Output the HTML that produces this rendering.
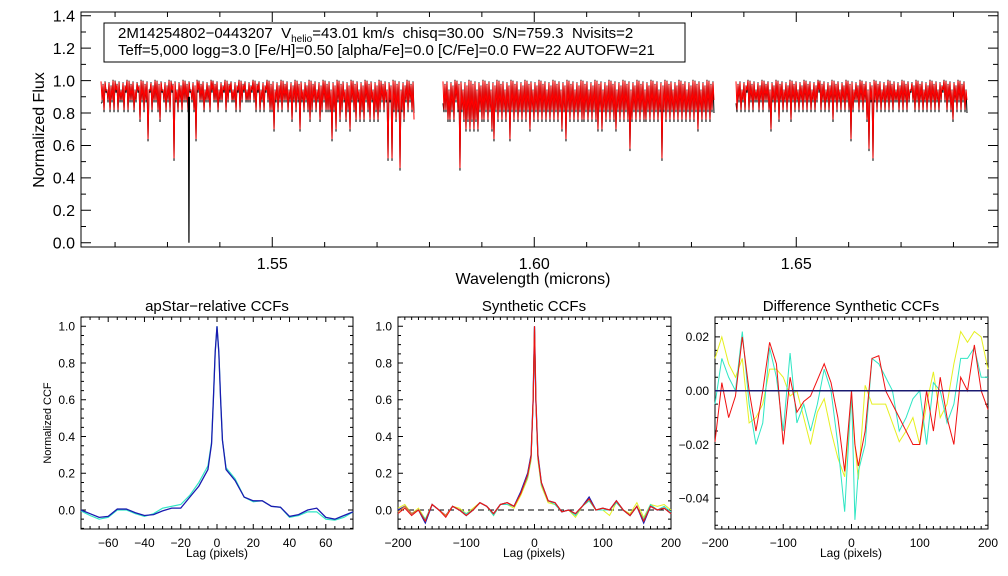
<!DOCTYPE html>
<html><head><meta charset="utf-8"><style>
html,body{margin:0;padding:0;background:#fff;}
svg{display:block;font-family:"Liberation Sans",sans-serif;}
text{white-space:pre;}
</style></head><body>
<svg id="fig" width="1008" height="576" viewBox="0 0 1008 576" xmlns="http://www.w3.org/2000/svg">
<rect x="0" y="0" width="1008" height="576" fill="#fff"/>
<g>
<rect x="104" y="23" width="581" height="39" fill="none" stroke="#000" stroke-width="1"/>
<text x="118" y="38" font-size="15" xml:space="preserve">2M14254802−0443207  V<tspan font-size="10" dy="4">helio</tspan><tspan dy="-4">=43.01 km/s  chisq=30.00  S/N=759.3  Nvisits=2</tspan></text>
<text x="118" y="55" font-size="15">Teff=5,000 logg=3.0 [Fe/H]=0.50 [alpha/Fe]=0.0 [C/Fe]=0.0 FW=22 AUTOFW=21</text>
</g>
</svg>
<script>
// ---------- DATA ----------
const specXTicks=[1.55,1.60,1.65];
const specYTicks=[0.0,0.2,0.4,0.6,0.8,1.0,1.2,1.4];
const chipStart=[1.51732,1.58258,1.63850];
const chipDepth1="2312323132231322321423261322341232318232322312361223223122322132122313212221231323123352323223242325232343232432333635243243523424342342434323282834393423234";
const chipDepth2="3344342393454545453443435634343436343434343534343434343434353634343434434343453534343453434347434343443434343834343434343434343534343432";
const chipDepth3="32323132322323223523242323242323232323232132323242323232363223232472823232323232232323212323232323232321232342323232";
const deepObsLine=[1.5341,0.0];

const ccf1Lags=[-75,-70,-65,-60,-55,-50,-45,-40,-35,-30,-25,-20,-15,-10,-5,-3,-2,-1,0,1,2,3,5,10,15,20,25,30,35,40,45,50,55,60,65,70,75];
const ccf1Blue=[0.0,-0.02,-0.04,-0.035,0.005,0.005,-0.015,-0.03,-0.025,-0.005,0.01,0.01,0.07,0.13,0.22,0.36,0.6,0.86,1.0,0.86,0.6,0.38,0.22,0.16,0.07,0.05,0.05,0.02,0.015,-0.035,-0.025,0.0,0.01,-0.04,-0.05,-0.03,-0.01];
const ccf1Cyan=[-0.005,-0.03,-0.05,-0.04,0.0,0.0,-0.02,-0.035,-0.02,0.01,0.02,0.03,0.08,0.15,0.24,0.37,0.6,0.86,1.0,0.86,0.6,0.38,0.23,0.17,0.07,0.045,0.05,0.02,0.015,-0.04,-0.03,-0.01,-0.01,-0.05,-0.055,-0.04,-0.01];

const ccf2Lags=[-200,-190,-180,-170,-160,-150,-140,-130,-120,-110,-100,-90,-80,-70,-60,-50,-40,-30,-20,-10,-5,-2,0,2,5,10,20,30,40,50,60,70,80,90,100,110,120,130,140,150,160,170,180,190,200];
const ccf2Blue  =[0.0,0.02,-0.02,0.0,-0.07,0.03,0.0,-0.03,0.02,0.0,-0.03,0.0,0.04,0.02,-0.02,0.03,0.04,0.02,0.1,0.2,0.3,0.6,1.0,0.6,0.3,0.15,0.05,0.04,-0.01,0.0,-0.02,0.02,0.07,0.0,0.01,0.0,0.05,0.0,-0.03,0.02,-0.07,0.02,0.0,0.01,-0.02];
const ccf2Cyan  =[-0.01,0.02,-0.02,0.0,-0.05,0.03,0.0,-0.03,0.02,0.0,-0.02,0.0,0.04,0.02,-0.03,0.03,0.03,0.02,0.09,0.18,0.28,0.6,1.0,0.6,0.28,0.14,0.05,0.03,-0.01,0.0,-0.03,0.02,0.05,0.0,0.0,0.0,0.04,0.0,-0.03,0.02,-0.05,0.03,0.0,0.02,-0.01];
const ccf2Yellow=[0.01,0.03,-0.02,0.01,-0.05,0.03,0.0,-0.03,0.02,0.01,-0.02,0.01,0.04,0.02,-0.03,0.03,0.03,0.01,0.08,0.17,0.27,0.6,1.0,0.6,0.27,0.13,0.04,0.03,-0.01,0.0,-0.04,0.02,0.05,0.0,0.0,-0.03,0.04,0.0,-0.02,0.04,-0.04,0.03,0.02,0.03,0.0];
const ccf2Orange=[-0.01,0.02,-0.02,0.0,-0.06,0.03,0.0,-0.03,0.02,0.0,-0.03,0.0,0.04,0.02,-0.02,0.03,0.04,0.02,0.09,0.19,0.29,0.6,1.0,0.6,0.29,0.15,0.05,0.04,-0.01,0.0,-0.02,0.02,0.06,0.0,0.01,0.0,0.05,0.0,-0.03,0.02,-0.06,0.02,0.0,0.01,-0.02];
const ccf2Red   =[-0.02,0.01,-0.03,0.0,-0.06,0.03,0.0,-0.04,0.02,0.0,-0.03,0.0,0.04,0.02,-0.02,0.03,0.04,0.02,0.09,0.19,0.29,0.6,1.0,0.6,0.29,0.15,0.05,0.04,-0.01,0.0,-0.02,0.02,0.06,0.0,0.01,0.0,0.05,0.0,-0.03,0.02,-0.06,0.02,0.0,0.01,-0.02];

const ccf3Lags=[-200,-190,-180,-170,-160,-150,-140,-130,-120,-110,-100,-90,-80,-70,-60,-50,-40,-30,-20,-10,0,5,10,20,30,40,50,60,70,80,90,100,110,120,130,140,150,160,170,180,190,200];
const ccf3Yellow=[0.012,0.02,0.01,0.005,0.012,-0.012,-0.01,-0.005,0.008,0.008,0.005,-0.002,0.0,-0.01,-0.02,-0.008,-0.003,-0.015,-0.025,-0.032,-0.003,-0.02,-0.033,0.002,-0.005,-0.005,-0.005,-0.012,-0.019,-0.015,-0.01,-0.02,-0.005,0.007,-0.01,-0.005,0.01,0.022,0.018,0.022,0.02,0.008];
const ccf3Cyan  =[-0.005,0.012,0.005,0.0,0.022,-0.005,-0.02,-0.012,0.016,0.005,-0.015,0.014,-0.012,-0.005,-0.015,-0.005,0.008,0.0,-0.02,-0.045,0.0,-0.048,-0.03,-0.02,0.012,0.01,0.005,0.0,-0.015,-0.01,-0.003,0.0,-0.02,0.003,0.0,-0.012,-0.005,0.012,0.012,0.016,0.005,0.005];
const ccf3Red   =[-0.019,0.003,-0.01,-0.002,0.02,0.0,-0.015,0.0,0.018,0.01,-0.02,0.005,-0.008,-0.004,-0.002,0.004,0.01,0.003,-0.01,-0.03,0.0,-0.02,-0.028,-0.015,0.012,0.013,0.0,-0.005,-0.01,-0.015,-0.02,-0.02,0.0,-0.015,0.005,-0.01,-0.02,0.005,0.0,0.017,0.0,-0.007];

// ---------- DRAWING ----------
const NS='http://www.w3.org/2000/svg';
const svg=document.getElementById('fig');
function mk(tag,attrs,parent){const e=document.createElementNS(NS,tag);for(const k in attrs)e.setAttribute(k,attrs[k]);(parent||svg).appendChild(e);return e;}
function lin(d0,d1,p0,p1){return v=>p0+(v-d0)*(p1-p0)/(d1-d0);}

function axes(name,x0,x1,y0,y1,sx,sy,xmaj,xmin,ymaj,ymin,ml,mn,fs,fmtX,fmtY){
  const g=mk('g',{});
  
  
  const r=mk('rect',{x:x0,y:y0,width:x1-x0,height:y1-y0,fill:'none',stroke:'#000','stroke-width':1},g);
  
  
  let d='';
  xmin.forEach(v=>{const x=sx(v);d+=`M${x},${y1}v${-mn}M${x},${y0}v${mn}`;});
  xmaj.forEach(v=>{const x=sx(v);d+=`M${x},${y1}v${-ml}M${x},${y0}v${ml}`;});
  ymin.forEach(v=>{const y=sy(v);d+=`M${x0},${y}h${mn}M${x1},${y}h${-mn}`;});
  ymaj.forEach(v=>{const y=sy(v);d+=`M${x0},${y}h${ml}M${x1},${y}h${-ml}`;});
  const t=mk('path',{d:d,stroke:'#000','stroke-width':1,fill:'none'},g);
  
  
  xmaj.forEach(v=>{const tx=mk('text',{x:sx(v),y:y1+fs+6,'font-size':fs,'text-anchor':'middle'},g);tx.textContent=fmtX(v);
    
    });
  ymaj.forEach(v=>{const ty=mk('text',{x:x0-6,y:sy(v)+fs*0.36,'font-size':fs,'text-anchor':'end'},g);ty.textContent=fmtY(v);
    
    });
  return g;
}
function range(a,b,s){const r=[];for(let v=a;v<=b+1e-9;v+=s)r.push(+v.toFixed(6));return r;}
function line(name,g,xs,ys,sx,sy,color,w,dash){
  let d='';xs.forEach((x,i)=>{d+=(i?'L':'M')+sx(x).toFixed(2)+','+sy(ys[i]).toFixed(2);});
  const p=mk('path',{d:d,fill:'none',stroke:color,'stroke-width':w||1},g);
  if(dash)p.setAttribute('stroke-dasharray',dash);
  
  
  return p;
}
function minus(v,dec){return (v<0?'−':'')+Math.abs(v).toFixed(dec);}

// Top spectrum panel
(function(){
  const x0=81,x1=998,y0=12,y1=247;
  const sx=lin(1.5135,1.5485,81,81+0.035*5240);
  const sy=lin(0,1.0,242.7,80.6);
  const g=axes('spectrum',x0,x1,y0,y1,sx,sy,specXTicks,range(1.52,1.68,0.01),specYTicks,range(0,1.4,0.1),10,5,16,v=>v.toFixed(2),v=>v.toFixed(1));
  const bw=2/5240;
  [chipDepth1,chipDepth2,chipDepth3].forEach((s,c)=>{
    const wx=[],wr=[],wb=[];
    for(let i=0;i<s.length;i++){
      const d=+s[i];const w=chipStart[c]+i*bw;
      const top=[0.995,0.975,0.99,0.94,0.985,0.965,1.0][i%7];
      wx.push(w);wr.push(top);wb.push(top+0.005);
      wx.push(w+bw*0.5);wr.push(1-d*0.06);wb.push(1-d*0.06-0.015);
    }
    wb[0]=0.86;wb[wb.length-1]=0.8;
    line('observed-spectrum-chip-'+(c+1),g,wx,wb,sx,sy,'#000',1);
    line('model-spectrum-chip-'+(c+1),g,wx,wr,sx,sy,'#f00',1);
  });
  line('observed-deep-line',g,[deepObsLine[0]-0.0001,deepObsLine[0],deepObsLine[0]+0.0001],[0.9,deepObsLine[1],0.9],sx,sy,'#000',1.2);
  const yl=mk('text',{x:0,y:0,'font-size':16,'text-anchor':'middle',transform:'translate(44,130) rotate(-90)'},g);yl.textContent='Normalized Flux';
  
  
  const xl=mk('text',{x:533,y:284,'font-size':16,'text-anchor':'middle'},g);xl.textContent='Wavelength (microns)';
  
  
})();

function ptitle(t,x,name){const e=mk('text',{x:x,y:311,'font-size':15,'text-anchor':'middle'});e.textContent=t;
  
  }
function xtitle(x,name){const e=mk('text',{x:x,y:557,'font-size':12,'text-anchor':'middle'});e.textContent='Lag (pixels)';
  
  }

// Panel 1
(function(){
  const x0=81,x1=353,y0=317,y1=529;
  const sx=lin(-75,75,x0,x1),sy=lin(0,1,510,326.3);
  const g=axes('ccf1',x0,x1,y0,y1,sx,sy,range(-60,60,20),range(-75,75,5),range(0,1,0.2),range(-0.1,1.05,0.05),5,3,12,v=>minus(v,0),v=>minus(v,1));
  line('ccf1-cyan',g,ccf1Lags,ccf1Cyan,sx,sy,'#2fe6c4',1.2);
  line('ccf1-blue',g,ccf1Lags,ccf1Blue,sx,sy,'#1a1ab0',1.3);
  ptitle('apStar−relative CCFs',217,'ccf1-title');
  xtitle(217,'ccf1-x-axis-title');
  const yl=mk('text',{x:0,y:0,'font-size':11,'text-anchor':'middle',transform:'translate(51,423) rotate(-90)'},g);yl.textContent='Normalized CCF';
  
  
})();

// Panel 2
(function(){
  const x0=398,x1=671,y0=317,y1=529;
  const sx=lin(-200,200,x0,x1),sy=lin(0,1,510,326.3);
  const g=axes('ccf2',x0,x1,y0,y1,sx,sy,range(-200,200,100),range(-200,200,10),range(0,1,0.2),range(-0.1,1.05,0.05),5,3,12,v=>minus(v,0),v=>minus(v,1));
  line('ccf2-zero-line',g,[-200,200],[0,0],sx,sy,'#000',1,'6,4');
  line('ccf2-yellow',g,ccf2Lags,ccf2Yellow,sx,sy,'#e6f020',1);
  line('ccf2-cyan',g,ccf2Lags,ccf2Cyan,sx,sy,'#2fe6c4',1);
  line('ccf2-blue',g,ccf2Lags,ccf2Blue,sx,sy,'#1a1ab0',1.3);
  line('ccf2-orange',g,ccf2Lags,ccf2Orange,sx,sy,'#f08020',1);
  line('ccf2-red',g,ccf2Lags,ccf2Red,sx,sy,'#f01010',1);
  ptitle('Synthetic CCFs',534,'ccf2-title');
  xtitle(534,'ccf2-x-axis-title');
})();

// Panel 3
(function(){
  const x0=715,x1=988,y0=317,y1=529;
  const sx=lin(-200,200,x0,x1),sy=lin(0,0.02,390.7,336.9);
  const g=axes('ccf3',x0,x1,y0,y1,sx,sy,range(-200,200,100),range(-200,200,10),range(-0.04,0.02,0.02),range(-0.05,0.025,0.005),5,3,12,v=>minus(v,0),v=>minus(v,2));
  line('ccf3-yellow',g,ccf3Lags,ccf3Yellow,sx,sy,'#e6f020',1);
  line('ccf3-cyan',g,ccf3Lags,ccf3Cyan,sx,sy,'#2fe6c4',1);
  line('ccf3-red',g,ccf3Lags,ccf3Red,sx,sy,'#f01010',1);
  line('ccf3-zero-line',g,[-200,200],[0,0],sx,sy,'#1a1a70',1.5);
  ptitle('Difference Synthetic CCFs',851,'ccf3-title');
  xtitle(851,'ccf3-x-axis-title');
})();
</script>
</body></html>
